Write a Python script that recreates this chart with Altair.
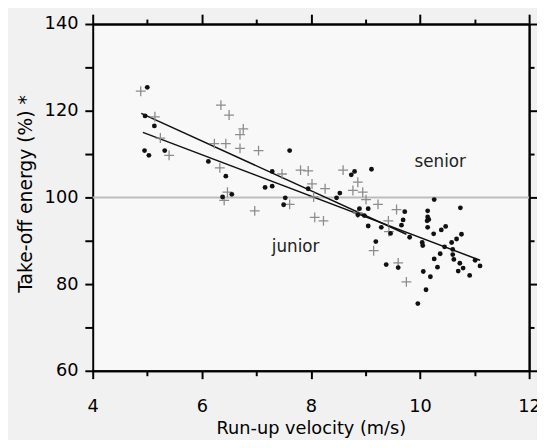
import altair as alt
import pandas as pd

# ---- data ----
senior_x = [5.00, 4.96, 5.13, 4.95, 5.03, 5.32, 6.12, 6.44, 6.38, 6.55,
            7.61, 7.29, 7.16, 7.29, 7.53, 7.50, 8.80, 8.74, 9.11, 7.95,
            8.53, 8.47, 8.89, 9.05, 8.86, 8.98, 9.05, 10.26, 10.74, 9.72,
            10.14, 10.14, 10.16, 10.13, 9.69, 9.66, 9.29, 9.46, 10.14, 10.47,
            10.39, 10.76, 10.25, 10.67, 10.58, 9.81, 10.04, 10.05, 9.19, 10.45,
            10.37, 10.60, 10.60, 10.62, 10.26, 10.73, 11.01, 11.10, 10.79, 10.70,
            10.32, 9.38, 9.60, 10.06, 10.19, 10.91, 10.11, 9.96]
senior_y = [125.4, 118.8, 116.5, 110.8, 109.7, 110.8, 108.3, 104.9, 100.1, 100.7,
            110.8, 106.0, 102.3, 102.6, 99.9, 98.3, 106.0, 105.2, 106.5, 102.0,
            101.0, 99.9, 97.4, 97.4, 96.0, 95.8, 93.4, 99.5, 97.6, 96.7,
            96.9, 95.5, 94.9, 94.6, 94.8, 93.6, 93.1, 91.7, 93.1, 93.3,
            92.5, 91.5, 91.6, 90.4, 89.6, 90.8, 89.6, 88.9, 89.8, 88.6,
            87.0, 88.0, 86.8, 85.7, 85.8, 84.8, 85.5, 84.2, 83.7, 83.0,
            83.9, 84.5, 83.8, 82.9, 81.7, 82.0, 78.7, 75.5]

junior_x = [4.88, 5.14, 5.24, 5.40, 6.35, 6.50, 6.76, 6.70, 6.23, 6.44,
            6.70, 6.33, 6.47, 6.41, 7.81, 7.95, 7.47, 7.61, 6.97, 7.04,
            8.59, 8.86, 8.02, 8.26, 8.77, 8.95, 8.05, 9.01, 8.86, 8.07,
            8.23, 9.23, 9.57, 9.42, 9.43, 9.15, 9.60, 9.75]
junior_y = [124.5, 118.6, 113.7, 109.7, 121.3, 119.0, 115.8, 114.5, 112.4, 112.4,
            111.3, 106.8, 101.2, 99.3, 106.3, 106.1, 105.4, 98.4, 96.9, 110.8,
            106.3, 103.5, 103.1, 102.0, 101.6, 101.2, 100.1, 99.5, 96.4, 95.4,
            94.6, 98.4, 97.2, 94.6, 92.1, 87.7, 84.9, 80.5]

line_group = ["junior", "junior", "senior", "senior"]
line_x = [4.89, 9.75, 4.92, 11.10]
line_y = [119.4, 91.5, 115.0, 85.5]

label_text = ["senior", "junior"]
label_x = [10.37, 7.72]
label_y = [106.9, 87.3]

ref_y = [100]

x_ticks_major = [4, 6, 8, 10, 12]
x_ticks_minor = [5, 7, 9, 11]
y_ticks_all = [60, 70, 80, 90, 100, 110, 120, 130, 140]
y_ticks_major = [60, 80, 100, 120, 140]
y_ticks_minor = [70, 90, 110, 130]

# ---- tables ----
senior_df = pd.DataFrame({"x": senior_x, "y": senior_y})
junior_df = pd.DataFrame({"x": junior_x, "y": junior_y})
line_df = pd.DataFrame({"g": line_group, "x": line_x, "y": line_y})
label_df = pd.DataFrame({"t": label_text, "x": label_x, "y": label_y})
ref_df = pd.DataFrame({"y": ref_y})

FONT = "DejaVu Sans"
xs = alt.Scale(domain=[4, 12], nice=False, zero=False)
ys = alt.Scale(domain=[60, 140], nice=False, zero=False)

common = dict(grid=False, domainColor="black", domainWidth=2, tickColor="black",
              tickWidth=2)

ax_bottom_major = alt.Axis(orient="bottom", values=x_ticks_major, tickSize=8,
                           labelFont=FONT, labelFontSize=18, labelColor="black",
                           labelPadding=19, labelFlush=False, labelOverlap=False,
                           title="Run-up velocity (m/s)", titleFont=FONT,
                           titleFontSize=18, titleFontWeight="normal",
                           titleColor="black", titleY=64,
                           titleBaseline="alphabetic", **common)
ax_bottom_minor = alt.Axis(orient="bottom", values=x_ticks_minor, tickSize=5,
                           labels=False, title=None, **common)
ax_top_major = alt.Axis(orient="top", values=x_ticks_major, tickSize=10,
                        labels=False, title=None, **common)
ax_top_minor = alt.Axis(orient="top", values=x_ticks_minor, tickSize=5,
                        labels=False, title=None, **common)

ax_left = alt.Axis(orient="left", values=y_ticks_all, tickSize=8,
                   labelExpr="datum.value % 20 == 0 ? datum.label : ''",
                   labelFont=FONT, labelFontSize=18, labelColor="black",
                   labelPadding=7, labelOverlap=False,
                   title="Take-off energy (%) *", titleFont=FONT,
                   titleFontSize=19, titleFontWeight="normal", titleColor="black",
                   titleAngle=-90, titleX=-62, titleY=172,
                   titleBaseline="alphabetic", titleAlign="center", **common)
ax_right_major = alt.Axis(orient="right", values=y_ticks_major, tickSize=9,
                          labels=False, title=None, **common)
ax_right_minor = alt.Axis(orient="right", values=y_ticks_minor, tickSize=5,
                          labels=False, title=None, **common)

ref = alt.Chart(ref_df).mark_rule(color="#bdbdbd", strokeWidth=2).encode(
    y=alt.Y("y:Q", scale=ys, axis=None)
)

lines = alt.Chart(line_df).mark_line(color="#111111", strokeWidth=1.5).encode(
    x=alt.X("x:Q", scale=xs, axis=ax_top_major),
    y=alt.Y("y:Q", scale=ys, axis=ax_right_minor),
    detail="g:N",
)

juniors = alt.Chart(junior_df).mark_point(
    shape="M-1,0L1,0M0,-1L0,1", filled=False, size=100, strokeWidth=1.3,
    color="#8c8c8c", opacity=1
).encode(
    x=alt.X("x:Q", scale=xs, axis=ax_bottom_minor),
    y=alt.Y("y:Q", scale=ys, axis=ax_right_major),
)

seniors = alt.Chart(senior_df).mark_circle(size=24, color="#111111", opacity=1).encode(
    x=alt.X("x:Q", scale=xs, axis=ax_bottom_major),
    y=alt.Y("y:Q", scale=ys, axis=ax_left),
)

labels = alt.Chart(label_df).mark_text(
    font=FONT, fontSize=17, color="#222222", align="center", baseline="alphabetic"
).encode(
    x=alt.X("x:Q", scale=xs, axis=ax_top_minor),
    y=alt.Y("y:Q", scale=ys, axis=None),
    text="t:N",
)

chart = alt.layer(ref, lines, juniors, seniors, labels).resolve_axis(
    x="independent", y="independent"
).resolve_scale(x="shared", y="shared").properties(
    width=443, height=352,
    autosize=alt.AutoSizeParams(type="none"),
    padding={"left": 86, "top": 13, "right": 8, "bottom": 67},
    background="#f1f1f1",
).configure_view(stroke=None, fill="#f8f8f8")

chart.save("out.html", embed_options={"renderer": "svg", "actions": False})
